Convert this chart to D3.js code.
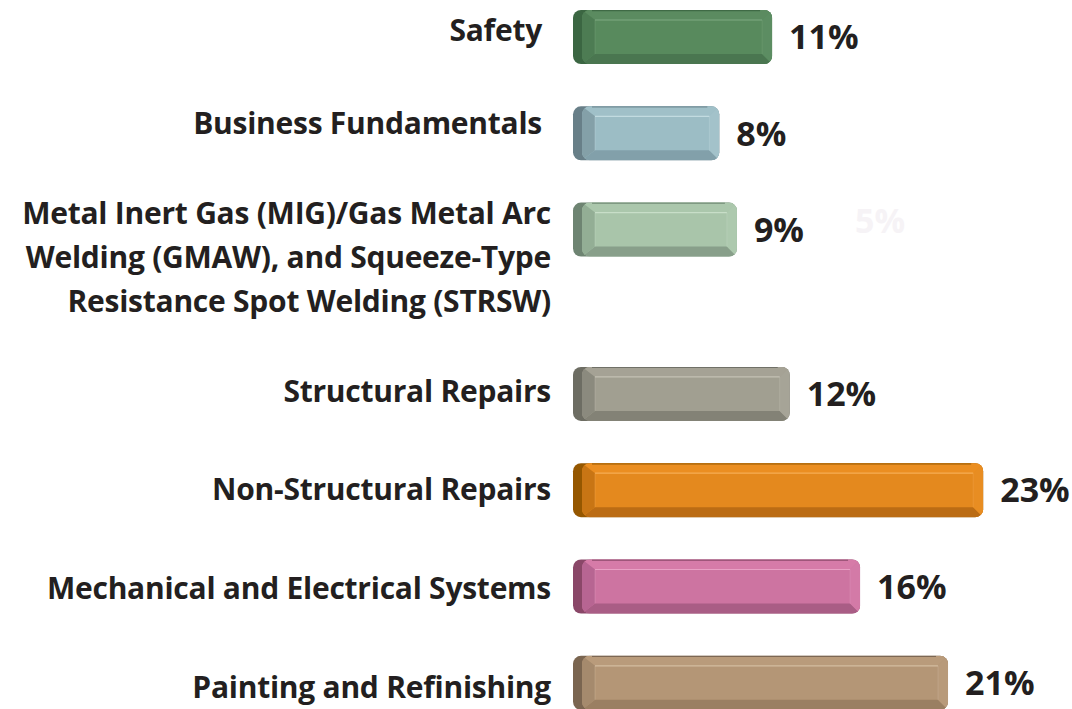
<!DOCTYPE html>
<html>
<head>
<meta charset="utf-8">
<script src="https://cdn.jsdelivr.net/npm/d3@7"></script>
<style>
  html, body { margin: 0; padding: 0; background: #ffffff; }
  svg { display: block; }
  text { font-family: "Open Sans", Lato, sans-serif; font-weight: 700; fill: #231f20; }
</style>
</head>
<body>
<svg id="chart" width="1072" height="709"></svg>
<script>
// ---- data ----
const categories = [
  ["Safety"],
  ["Business Fundamentals"],
  ["Metal Inert Gas (MIG)/Gas Metal Arc", "Welding (GMAW), and Squeeze-Type", "Resistance Spot Welding (STRSW)"],
  ["Structural Repairs"],
  ["Non-Structural Repairs"],
  ["Mechanical and Electrical Systems"],
  ["Painting and Refinishing"]
];
const values = [11, 8, 9, 12, 23, 16, 21];
const valueLabels = ["11%", "8%", "9%", "12%", "23%", "16%", "21%"];
const ghostLabel = "5%";

// colour palettes per bar
const palettes = [
  {cap:"#3b6642", left:"#4d7c53", top:"#5b8b60", face:"#588a5d", bottom:"#4a7650", right:"#5c8d62", line:"#7eaa82", edge:"#3f6a45"},
  {cap:"#687f88", left:"#84a0a8", top:"#a0c0c8", face:"#9cbdc5", bottom:"#82a0aa", right:"#a3c2ca", line:"#c2dbe0", edge:"#6e8790"},
  {cap:"#6e8472", left:"#93ae95", top:"#abc7ac", face:"#a9c5aa", bottom:"#889f8a", right:"#adc9ae", line:"#c8dec8", edge:"#718a75"},
  {cap:"#6d6d63", left:"#8b8a7e", top:"#a5a295", face:"#a19f91", bottom:"#838276", right:"#a6a497", line:"#c4c1b4", edge:"#707067"},
  {cap:"#955700", left:"#c87514", top:"#eb8e21", face:"#e4891e", bottom:"#bb6c14", right:"#e88d22", line:"#f6ac55", edge:"#9a5c05"},
  {cap:"#8a4768", left:"#b76592", top:"#d67ba8", face:"#cd74a1", bottom:"#a95d85", right:"#d37aa7", line:"#e9a0c4", edge:"#8c4a6b"},
  {cap:"#7a6550", left:"#a58a6d", top:"#b99b7b", face:"#b49676", bottom:"#9a7f62", right:"#b89a7a", line:"#d3bca0", edge:"#7c6753"}
];

// ---- layout ----
const svg = d3.select("#chart");
const capLeft = 573;           // left edge of the 3D end cap
const barH = 54;
const x = d3.scaleLinear().domain([0, 23]).range([578.6, 983.2]);

// vertical slots: each row is one slot, extra label lines add partial slots
let acc = 0;
const slots = categories.map(c => {
  const s = acc;
  acc += 1 + (c.length - 1) * 0.353;
  return s;
});
const y = d3.scaleLinear().domain([0, 1]).range([37, 37 + 96.3]);

// label placement tweaks (layout, from the source artwork)
const labelRight = 551;
const labelShift = [[-9, -6], [-9, -9], [0, 0], [0, -2], [0, 0], [0, 3], [0, 5]];

const defs = svg.append("defs");

const rows = svg.selectAll("g.row")
  .data(values.map((v, i) => ({v, i, lines: categories[i], pal: palettes[i], label: valueLabels[i]})))
  .join("g").attr("class", "row");

rows.each(function(d) {
  const g = d3.select(this);
  const cy = y(slots[d.i]);
  const y0 = cy - barH / 2, y1 = cy + barH / 2;
  const x0 = capLeft, x1 = x(d.v);
  const p = d.pal;
  const r = 8;
  const xa = x0 + 9;
  const bw = 13;
  const bt = 10;

  g.append("rect").attr("x", x0).attr("y", y0).attr("width", x1 - x0).attr("height", barH)
    .attr("rx", r).attr("fill", p.cap);

  const cid = "clip" + d.i;
  defs.append("clipPath").attr("id", cid)
    .append("rect").attr("x", xa).attr("y", y0).attr("width", x1 - xa).attr("height", barH).attr("rx", r);

  const body = g.append("g").attr("clip-path", `url(#${cid})`);
  body.append("rect").attr("x", xa).attr("y", y0).attr("width", x1 - xa).attr("height", barH).attr("fill", p.face);
  const poly = pts => pts.map(q => q.join(",")).join(" ");
  body.append("polygon").attr("points", poly([[xa, y0], [x1, y0], [x1 - bt, y0 + bt], [xa + bw, y0 + bt]])).attr("fill", p.top);
  body.append("polygon").attr("points", poly([[xa, y1], [x1, y1], [x1 - bt, y1 - bt], [xa + bw, y1 - bt]])).attr("fill", p.bottom);
  body.append("polygon").attr("points", poly([[xa, y0], [xa + bw, y0 + bt], [xa + bw, y1 - bt], [xa, y1]])).attr("fill", p.left);
  body.append("polygon").attr("points", poly([[x1, y0], [x1 - bt, y0 + bt], [x1 - bt, y1 - bt], [x1, y1]])).attr("fill", p.right);
  body.append("line").attr("x1", xa + bw).attr("x2", x1 - bt).attr("y1", y0 + bt).attr("y2", y0 + bt)
    .attr("stroke", p.line).attr("stroke-width", 1.2);
  body.append("line").attr("x1", xa + bw).attr("x2", xa + bw).attr("y1", y0 + bt).attr("y2", y1 - bt)
    .attr("stroke", p.line).attr("stroke-opacity", 0.35).attr("stroke-width", 1);
  body.append("line").attr("x1", x1 - bt).attr("x2", x1 - bt).attr("y1", y0 + bt).attr("y2", y1 - bt)
    .attr("stroke", p.line).attr("stroke-opacity", 0.35).attr("stroke-width", 1);
  body.append("line").attr("x1", xa + 10).attr("x2", x1 - 12).attr("y1", y0 + 0.6).attr("y2", y0 + 0.6)
    .attr("stroke", p.edge).attr("stroke-width", 1.2);

  // category label
  const [sx, sy] = labelShift[d.i];
  const lh = 44;
  const firstBase = d.lines.length > 1 ? cy - 6 : cy + 10;
  const t = g.append("text").attr("text-anchor", "end").attr("font-size", 30)
    .attr("letter-spacing", "-0.25px");
  d.lines.forEach((ln, k) => {
    t.append("tspan").attr("x", labelRight + sx).attr("y", firstBase + sy + k * lh).text(ln);
  });

  // value label
  g.append("text").attr("x", x1 + 17).attr("y", cy).attr("dy", "0.36em")
    .attr("font-size", 34).text(d.label);
});

svg.append("text").attr("x", 855).attr("y", y(slots[2]) - 9).attr("dy", "0.36em")
  .attr("font-size", 34).style("fill", "#f6f3f6").text(ghostLabel);
</script>
</body>
</html>
